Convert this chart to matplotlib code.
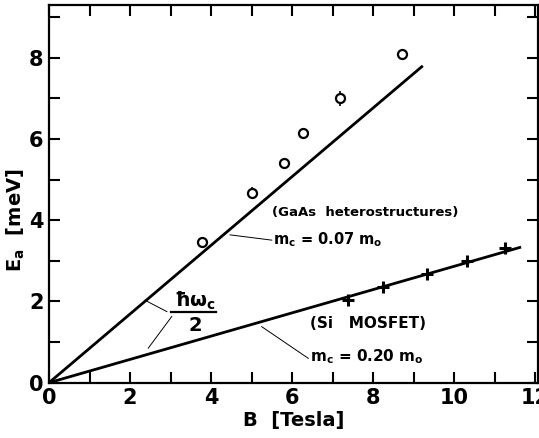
import matplotlib
matplotlib.use("Agg")
import matplotlib.pyplot as plt
from matplotlib import font_manager
from matplotlib.ticker import MultipleLocator

plt.rcParams['font.family'] = ['DejaVu Sans']
plt.rcParams['font.weight'] = 'bold'
plt.rcParams['axes.labelweight'] = 'bold'
plt.rcParams['mathtext.fontset'] = 'dejavusans'
plt.rcParams['mathtext.default'] = 'bf'

# narrow face for the labels on the lines, if there is one
names = {f.name for f in font_manager.fontManager.ttflist}
if 'Liberation Sans Narrow' in names:
    note_font = ['Liberation Sans Narrow', 'DejaVu Sans']
    note_size = 13
else:
    note_font = ['DejaVu Sans']
    note_size = 10.5

# GaAs heterostructures (open circles)
gaas_B = [3.78, 5.02, 5.80, 6.28, 7.18, 8.71]
gaas_E = [3.47, 4.67, 5.40, 6.14, 7.00, 8.10]
gaas_err = [0.0, 0.15, 0.0, 0.0, 0.18, 0.0]

# Si MOSFET (crosses)
si_B = [7.37, 8.25, 9.33, 10.31, 11.26]
si_E = [2.04, 2.35, 2.67, 3.00, 3.31]

# hbar*omega_c/2 lines
gaas_fit_B = [0.0, 9.2]
gaas_fit_E = [0.0, 7.78]
si_fit_B = [0.0, 11.62]
si_fit_E = [0.0, 3.33]

fig = plt.figure(figsize=(5.39, 4.38), dpi=100)
ax = fig.add_axes([49 / 539, 55.3 / 438, 489 / 539, 377.7 / 438])

ax.plot(gaas_fit_B, gaas_fit_E, color='black', lw=2.0)
ax.plot(si_fit_B, si_fit_E, color='black', lw=2.0)

ax.errorbar(gaas_B, gaas_E, yerr=gaas_err, fmt='o', mfc='white', mec='black',
            ms=6.5, mew=1.6, ecolor='black', elinewidth=1.2, capsize=0, zorder=3)
ax.plot(si_B, si_E, '+', color='black', ms=8, mew=2.2, zorder=3)

# labels on the lines
ax.text(5.50, 4.18, '(GaAs  heterostructures)', family=note_font, fontsize=note_size - 1,
        va='center', ha='left')
ax.text(5.53, 3.51, 'm$_c$ = 0.07 m$_o$', family=note_font, fontsize=note_size,
        va='center', ha='left')
ax.plot([4.47, 5.50], [3.64, 3.51], color='black', lw=0.7)

ax.text(6.44, 1.46, '(Si   MOSFET)', family=note_font, fontsize=note_size + 0.5,
        va='center', ha='left')
ax.text(6.44, 0.64, 'm$_c$ = 0.20 m$_o$', family=note_font, fontsize=note_size + 0.5,
        va='center', ha='left')
ax.plot([5.25, 6.40], [1.38, 0.60], color='black', lw=0.7)

ax.text(3.60, 2.02, 'ħω$_c$', fontsize=14, va='center', ha='center')
ax.plot([3.02, 4.12], [1.73, 1.73], color='black', lw=1.6)
ax.text(3.60, 1.40, '2', fontsize=14, va='center', ha='center')
ax.plot([2.37, 2.91], [2.03, 1.75], color='black', lw=0.7)
ax.plot([3.03, 2.45], [1.63, 0.85], color='black', lw=0.7)

ax.set_xlim(0, 12.07)
ax.set_ylim(0, 9.3)
ax.xaxis.set_major_locator(MultipleLocator(2))
ax.xaxis.set_minor_locator(MultipleLocator(1))
ax.yaxis.set_major_locator(MultipleLocator(2))
ax.yaxis.set_minor_locator(MultipleLocator(1))
ax.tick_params(which='both', direction='in', top=True, right=True,
               length=8, width=1.5, labelsize=15, pad=4)
for s in ax.spines.values():
    s.set_linewidth(1.6)

ax.set_xlabel('B  [Tesla]', fontsize=14, labelpad=2)
ax.set_ylabel('E$_a$  [meV]', fontsize=14)
ax.yaxis.set_label_coords(-0.045, 0.43)

fig.savefig('out.png', dpi=100)
